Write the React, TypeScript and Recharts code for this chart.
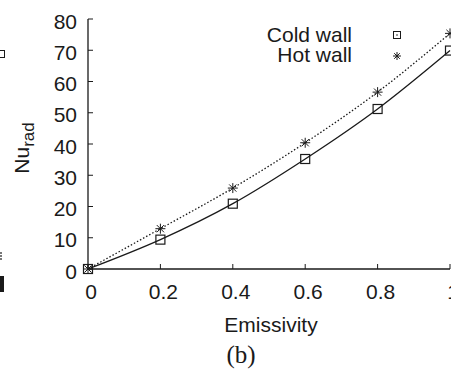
import React from "react";
import { LineChart, Line, XAxis, YAxis, Label } from "recharts";

const emissivity = [0, 0.2, 0.4, 0.6, 0.8, 1];
const coldWall = [0, 9.4, 20.9, 35.2, 51.2, 69.9];
const hotWall = [0, 12.9, 25.9, 40.4, 56.6, 75.4];
const xTicks = [0, 0.2, 0.4, 0.6, 0.8, 1];
const yTicks = [0, 10, 20, 30, 40, 50, 60, 70, 80];
const seriesNames = ["Cold wall", "Hot wall"];

const data = emissivity.map((e, i) => ({ e, cold: coldWall[i], hot: hotWall[i] }));

const INK = "#1a1a1a";
const SANS = "'Liberation Sans', Arial, Helvetica, sans-serif";
const TICK = 5;

const SquareDot = (p: any) => (
  <rect
    key={`sq-${p.index}`}
    x={p.cx - 4.5}
    y={p.cy - 4.5}
    width={9}
    height={9}
    fill="none"
    stroke={INK}
    strokeWidth={1.2}
  />
);

const StarDot = (p: any) => {
  const r = 5;
  const d = r * 0.72;
  return (
    <g key={`st-${p.index}`} stroke={INK} strokeWidth={1}>
      <line x1={p.cx - r} y1={p.cy} x2={p.cx + r} y2={p.cy} />
      <line x1={p.cx} y1={p.cy - r} x2={p.cx} y2={p.cy + r} />
      <line x1={p.cx - d} y1={p.cy - d} x2={p.cx + d} y2={p.cy + d} />
      <line x1={p.cx - d} y1={p.cy + d} x2={p.cx + d} y2={p.cy - d} />
    </g>
  );
};

// inward ticks; tickSize/tickMargin are 0 so x/y sit on the axis line
const BottomTick = (p: any) => (
  <g>
    <line x1={p.x} y1={p.y} x2={p.x} y2={p.y - TICK} stroke={INK} strokeWidth={1} />
    <text x={p.x + 3} y={p.y + 29.5} textAnchor="middle" fontFamily={SANS} fontSize={21} fill={INK}>
      {p.payload.value}
    </text>
  </g>
);

const TopTick = (p: any) => (
  <line x1={p.x} y1={p.y} x2={p.x} y2={p.y + TICK} stroke={INK} strokeWidth={1} />
);

const LeftTick = (p: any) => (
  <g>
    <line x1={p.x} y1={p.y} x2={p.x + TICK} y2={p.y} stroke={INK} strokeWidth={1} />
    <text x={p.x - 11} y={p.y + 9.5} textAnchor="end" fontFamily={SANS} fontSize={21} fill={INK}>
      {p.payload.value}
    </text>
  </g>
);

const RightTick = (p: any) => (
  <line x1={p.x} y1={p.y} x2={p.x - TICK} y2={p.y} stroke={INK} strokeWidth={1} />
);

const LegendBox = () => (
  <svg width={200} height={50} style={{ position: "absolute", left: 250, top: 22 }}>
    <g fontFamily={SANS} fontSize={21} fill={INK} textAnchor="end">
      <text x={102} y={20}>{seriesNames[0]}</text>
      <text x={102} y={40}>{seriesNames[1]}</text>
    </g>
    <rect x={143.5} y={9.5} width={7} height={7} fill="none" stroke={INK} strokeWidth={1} />
    <circle cx={147} cy={13} r={0.8} fill={INK} />
    <g stroke={INK} strokeWidth={1}>
      <line x1={143} y1={34} x2={151} y2={34} />
      <line x1={147} y1={30} x2={147} y2={38} />
      <line x1={144.2} y1={31.2} x2={149.8} y2={36.8} />
      <line x1={144.2} y1={36.8} x2={149.8} y2={31.2} />
    </g>
  </svg>
);

export default function App() {
  return (
    <div style={{ position: "absolute", left: 0, top: 0, width: 451, height: 370, background: "#fff", overflow: "hidden" }}>
      {/* edge of the neighbouring panel */}
      <div style={{ position: "absolute", left: -3, top: 50, width: 6, height: 6, border: `1px solid ${INK}` }} />
      <div style={{ position: "absolute", left: 0, top: 252, width: 2, height: 8, borderLeft: `2px dotted #777` }} />
      <div style={{ position: "absolute", left: 0, top: 276, width: 4, height: 16, background: INK }} />
      <LineChart width={451} height={370} data={data} margin={{ top: 19, right: 1, bottom: 0, left: 0 }}>
        <XAxis
          dataKey="e"
          type="number"
          domain={[0, 1]}
          ticks={xTicks}
          interval={0}
          height={101}
          tickSize={0}
          tickMargin={0}
          tick={BottomTick}
          axisLine={{ stroke: INK, strokeWidth: 1.3 }}
          tickLine={false}
        >
          <Label
            content={(props: any) => {
              const vb = props.viewBox;
              const cx = vb.x + vb.width / 2;
              return (
                <g>
                  <text x={cx + 2} y={vb.y + 62.5} textAnchor="middle" fontFamily={SANS} fontSize={21} fill={INK}>
                    Emissivity
                  </text>
                  <text x={cx - 28} y={vb.y + 94} textAnchor="middle" fontFamily="'Liberation Serif', 'Times New Roman', serif" fontSize={25} fill={INK}>
                    (b)
                  </text>
                </g>
              );
            }}
          />
        </XAxis>
        <XAxis
          xAxisId="top"
          dataKey="e"
          type="number"
          orientation="top"
          domain={[0, 1]}
          ticks={xTicks}
          interval={0}
          height={0}
          tickSize={0}
          tickMargin={0}
          tick={TopTick}
          axisLine={{ stroke: INK, strokeWidth: 1.3 }}
          tickLine={false}
        />
        <YAxis
          type="number"
          domain={[0, 80]}
          ticks={yTicks}
          interval={0}
          width={88}
          tickSize={0}
          tickMargin={0}
          tick={LeftTick}
          axisLine={{ stroke: INK, strokeWidth: 1.3 }}
          tickLine={false}
        >
          <Label
            content={() => (
              <text transform="translate(29,148) rotate(-90)" textAnchor="middle" fontFamily={SANS} fontSize={21} fill={INK}>
                Nu<tspan fontSize={17} dy={5}>rad</tspan>
              </text>
            )}
          />
        </YAxis>
        <YAxis
          yAxisId="right"
          orientation="right"
          type="number"
          domain={[0, 80]}
          ticks={yTicks}
          interval={0}
          width={0}
          tickSize={0}
          tickMargin={0}
          tick={RightTick}
          axisLine={{ stroke: INK, strokeWidth: 1.3 }}
          tickLine={false}
        />
        <Line
          dataKey="cold"
          name={seriesNames[0]}
          type="monotone"
          stroke={INK}
          strokeWidth={1.3}
          dot={SquareDot}
          isAnimationActive={false}
        />
        <Line
          dataKey="hot"
          name={seriesNames[1]}
          type="monotone"
          stroke={INK}
          strokeWidth={1.3}
          strokeDasharray="1.5 2"
          dot={StarDot}
          isAnimationActive={false}
        />
      </LineChart>
      <LegendBox />
    </div>
  );
}
